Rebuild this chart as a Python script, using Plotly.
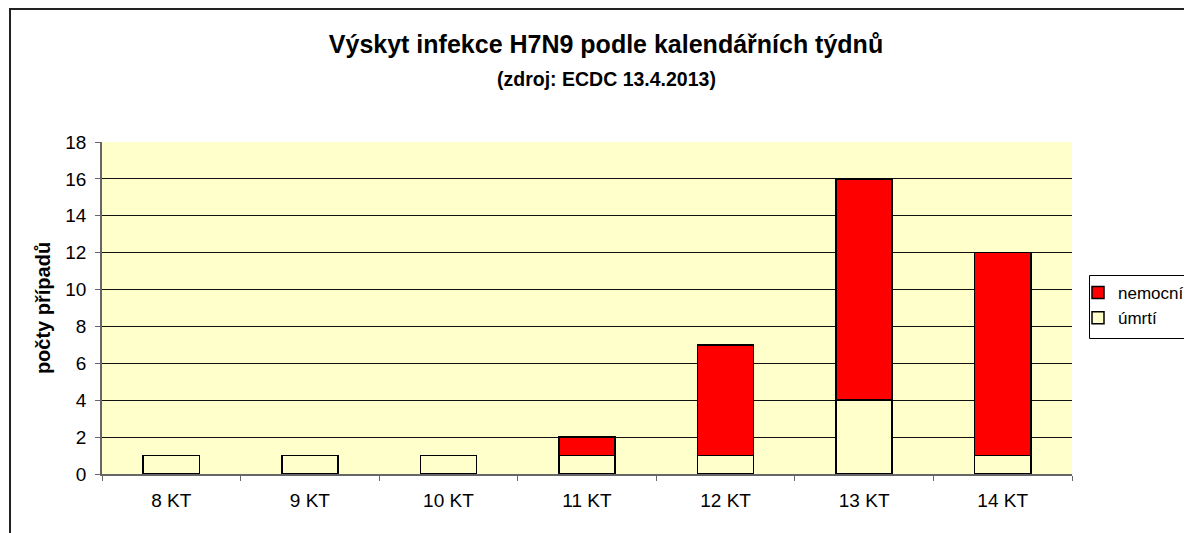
import plotly.graph_objects as go

categories = ["8 KT", "9 KT", "10 KT", "11 KT", "12 KT", "13 KT", "14 KT"]
umrti = [1, 1, 1, 1, 1, 4, 1]
nemocni = [0, 0, 0, 1, 6, 12, 11]
y_ticks = [0, 2, 4, 6, 8, 10, 12, 14, 16, 18]

OFF = 8  # page body margin
W, H = 1192 - OFF, 533 - OFF
L, R, T, B = 102, 1072, 142, 474
pw, ph = R - L, B - T

def px(x):
    return (x - L) / pw

def py(y):
    return (B - y) / ph

font = "Arial, 'Liberation Sans', sans-serif"

fig = go.Figure()
fig.add_trace(go.Bar(
    x=categories, y=umrti, name="úmrtí", legendrank=2,
    marker=dict(color="#FFFFCC", line=dict(color="black", width=1.5)),
    width=0.405,
))
fig.add_trace(go.Bar(
    x=categories, y=nemocni, name="nemocní", legendrank=1,
    marker=dict(color="#FF0000", line=dict(color="black", width=1.5)),
    width=0.405,
))

fig.update_layout(
    width=W, height=H,
    margin=dict(l=L - OFF, r=W - (R - OFF), t=T - OFF, b=H - (B - OFF), pad=0,
                autoexpand=False),
    barmode="stack",
    paper_bgcolor="white",
    plot_bgcolor="#FFFFCC",
    font=dict(family=font, size=19, color="black"),
    showlegend=True,
    legend=dict(
        xref="container", yref="container",
        x=(1078 - OFF) / W, y=1 - (275 - OFF) / H, xanchor="left", yanchor="top",
        bgcolor="rgba(0,0,0,0)", borderwidth=0,
        traceorder="normal", tracegroupgap=0,
        font=dict(size=17), itemwidth=30,
    ),
    xaxis=dict(
        type="category", tickson="boundaries", ticks="outside", ticklen=5,
        tickcolor="#666", showline=True, linecolor="#666", linewidth=1.5,
        showgrid=False, ticklabelstandoff=8,
    ),
    yaxis=dict(
        range=[0, 18], tickvals=y_ticks, ticks="outside", ticklen=5,
        tickcolor="#666", showline=True, linecolor="#666", linewidth=1.5,
        showgrid=True, gridcolor="#111", gridwidth=1, zeroline=False,
        ticklabelstandoff=5,
        title=dict(text="<b>počty případů</b>", font=dict(size=20), standoff=9),
    ),
    title=dict(
        text="<b>Výskyt infekce H7N9 podle kalendářních týdnů</b>",
        x=px(606), xanchor="center", xref="paper",
        y=1 - (44 - OFF) / H, yanchor="middle", yref="container",
        font=dict(size=25, family=font),
    ),
)

fig.add_annotation(
    text="<b>(zdroj: ECDC 13.4.2013)</b>",
    x=px(606), y=py(79), xref="paper", yref="paper",
    xanchor="center", yanchor="middle", showarrow=False,
    font=dict(size=19.5, family=font),
)

# outer chart frame
fig.add_shape(
    type="rect", xref="paper", yref="paper",
    x0=px(10), x1=px(1192 + 30), y0=py(9), y1=py(533 + 30),
    line=dict(color="#222", width=2), fillcolor="rgba(0,0,0,0)",
    layer="above",
)
# legend frame
fig.add_shape(
    type="rect", xref="paper", yref="paper",
    x0=px(1089.5), x1=px(1192 + 30), y0=py(275.5), y1=py(338.5),
    line=dict(color="black", width=1), fillcolor="rgba(0,0,0,0)",
    layer="above",
)

fig.write_html("out.html")
